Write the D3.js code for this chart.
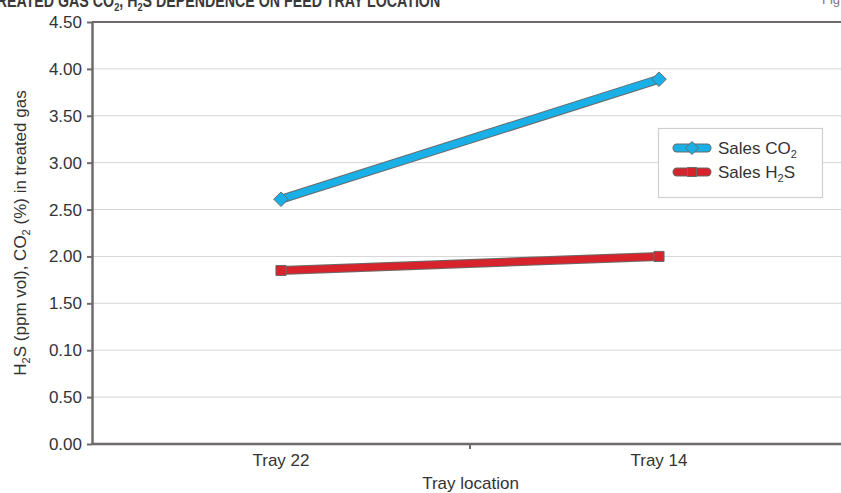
<!DOCTYPE html>
<html>
<head>
<meta charset="utf-8">
<script src="https://cdn.jsdelivr.net/npm/d3@7/dist/d3.min.js"></script>
<style>
  html, body { margin: 0; padding: 0; background: #fff; }
  svg { display: block; font-family: "Liberation Sans", Arial, sans-serif; }
</style>
</head>
<body>
<svg id="chart" width="841" height="493"></svg>
<script>
// Feed tray location vs. treated gas composition
const categories = ["Tray 22", "Tray 14"];
const co2Values = [2.61, 3.89];
const h2sValues = [1.85, 2.00];
const yTickValues = [0, 0.5, 1, 1.5, 2, 2.5, 3, 3.5, 4, 4.5];
const yTickLabels = ["0.00", "0.50", "0.10", "1.50", "2.00", "2.50", "3.00", "3.50", "4.00", "4.50"];
const legendLabels = [
  [{ t: "Sales CO" }, { t: "2", sub: true }],
  [{ t: "Sales H" }, { t: "2", sub: true }, { t: "S" }]
];

const W = 841, H = 493;
const plot = { left: 92, right: 848, top: 22, bottom: 444 };
const axisColor = "#6e6a6e";
const gridColor = "#d6d6d6";
const textColor = "#333";
const outline = "#6a6a6a";
const blue = "#18b0e6";
const red = "#d6232c";

const svg = d3.select("#chart");

const x = d3.scaleBand().domain(categories).range([plot.left, plot.right]).padding(0);
const y = d3.scaleLinear().domain([0, 4.5]).range([plot.bottom, plot.top]);
const cx = d => x(d) + x.bandwidth() / 2;

// text with subscripted parts; shifts given in px so the baseline comes back exactly
function subText(sel, parts, fs) {
  const shift = Math.round(fs * 0.22);
  let lowered = false;
  parts.forEach(p => {
    const ts = sel.append("tspan").text(p.t);
    if (p.sub) {
      ts.attr("font-size", fs * 0.65).attr("dy", shift);
      lowered = true;
    } else if (lowered) {
      ts.attr("dy", -shift);
      lowered = false;
    }
  });
}

// title strip (clipped by the top edge), condensed bold caps
const title = svg.append("text")
  .attr("transform", "translate(-12,7) scale(0.79,1)")
  .attr("font-size", 18).attr("font-weight", "bold").attr("fill", "#3a3a3a");
subText(title, [
  { t: "TREATED GAS CO" }, { t: "2", sub: true }, { t: ", H" }, { t: "2", sub: true },
  { t: "S DEPENDENCE ON FEED TRAY LOCATION" }
], 18);
svg.append("text").attr("x", 822).attr("y", 4).attr("font-size", 13).attr("fill", "#777").text("Fig");

// gridlines
svg.append("g").selectAll("line")
  .data(yTickValues.filter(v => v > 0 && v < 4.5))
  .join("line")
  .attr("x1", plot.left).attr("x2", W)
  .attr("y1", d => y(d)).attr("y2", d => y(d))
  .attr("stroke", gridColor).attr("stroke-width", 1);

// top border of plot area
svg.append("line")
  .attr("x1", plot.left).attr("x2", W)
  .attr("y1", y(4.5)).attr("y2", y(4.5))
  .attr("stroke", axisColor).attr("stroke-width", 2);

// y axis
const yAxis = d3.axisLeft(y).tickValues(yTickValues)
  .tickFormat((d, i) => yTickLabels[i]).tickSize(5).tickSizeOuter(0).tickPadding(5);
const gy = svg.append("g").attr("transform", `translate(${plot.left},0)`).call(yAxis);
gy.select(".domain").attr("stroke", axisColor).attr("stroke-width", 2.5);
gy.selectAll(".tick line").attr("stroke", axisColor).attr("stroke-width", 2);
gy.selectAll(".tick text").attr("font-size", 17).attr("fill", textColor)
  .attr("font-family", "Liberation Sans, Arial, sans-serif");

// x axis
const xAxis = d3.axisBottom(x).tickSize(0).tickPadding(10);
const gx = svg.append("g").attr("transform", `translate(0,${plot.bottom})`).call(xAxis);
gx.select(".domain").remove();
gx.append("line").attr("x1", plot.left).attr("x2", W).attr("y1", 0).attr("y2", 0)
  .attr("stroke", axisColor).attr("stroke-width", 2.5);
gx.selectAll(".tick text").attr("font-size", 17).attr("fill", textColor)
  .attr("font-family", "Liberation Sans, Arial, sans-serif");
// tick between the two categories
gx.append("line")
  .attr("x1", x(categories[1])).attr("x2", x(categories[1]))
  .attr("y1", 0).attr("y2", 5)
  .attr("stroke", axisColor).attr("stroke-width", 2);

// axis titles
const yTitle = svg.append("text")
  .attr("transform", `translate(26,233) rotate(-90)`)
  .attr("text-anchor", "middle").attr("font-size", 17).attr("fill", textColor);
subText(yTitle, [
  { t: "H" }, { t: "2", sub: true }, { t: "S (ppm vol), CO" }, { t: "2", sub: true },
  { t: " (%) in treated gas" }
], 17);
svg.append("text").attr("x", (plot.left + W) / 2 + 4).attr("y", 489)
  .attr("text-anchor", "middle").attr("font-size", 17).attr("fill", textColor)
  .text("Tray location");

// series
const series = [
  { values: co2Values, color: blue, marker: d3.symbolDiamond2, size: 135 },
  { values: h2sValues, color: red, marker: d3.symbolSquare2, size: 130 }
];
const line = d3.line().x((d, i) => cx(categories[i])).y(d => y(d));

series.forEach(s => {
  const g = svg.append("g");
  g.append("path").datum(s.values).attr("d", line)
    .attr("fill", "none").attr("stroke", outline).attr("stroke-width", 9);
  g.append("path").datum(s.values).attr("d", line)
    .attr("fill", "none").attr("stroke", s.color).attr("stroke-width", 7);
  g.selectAll("path.m").data(s.values).join("path").attr("class", "m")
    .attr("transform", (d, i) => `translate(${cx(categories[i])},${y(d)})`)
    .attr("d", d3.symbol().type(s.marker).size(s.size))
    .attr("fill", s.color).attr("stroke", outline).attr("stroke-width", 1);
});

// legend
const lg = svg.append("g");
lg.append("rect").attr("x", 658.5).attr("y", 128.5).attr("width", 164).attr("height", 69)
  .attr("fill", "#fff").attr("stroke", "#cfcfcf").attr("stroke-width", 1.2);
series.forEach((s, i) => {
  const ly = 148 + i * 24;
  lg.append("line").attr("x1", 677).attr("x2", 707).attr("y1", ly).attr("y2", ly)
    .attr("stroke", outline).attr("stroke-width", 9).attr("stroke-linecap", "round");
  lg.append("line").attr("x1", 677).attr("x2", 707).attr("y1", ly).attr("y2", ly)
    .attr("stroke", s.color).attr("stroke-width", 7).attr("stroke-linecap", "round");
  lg.append("path").attr("transform", `translate(692,${ly})`)
    .attr("d", d3.symbol().type(s.marker).size(s.size * 0.8))
    .attr("fill", s.color).attr("stroke", outline).attr("stroke-width", 1);
  const t = lg.append("text").attr("x", 718).attr("y", ly + 6)
    .attr("font-size", 17).attr("fill", textColor);
  subText(t, legendLabels[i], 17);
});
</script>
</body>
</html>
